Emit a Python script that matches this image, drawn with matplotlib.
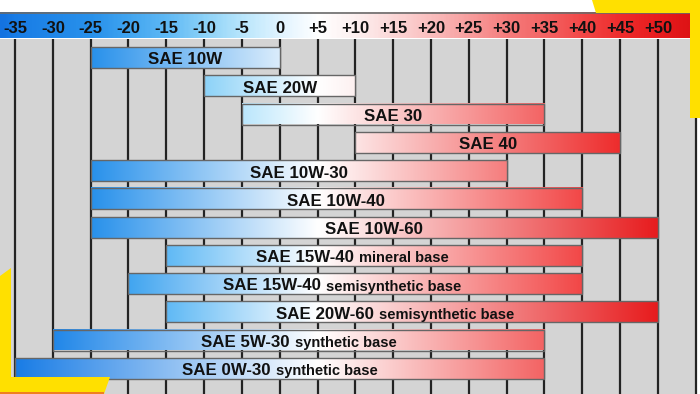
import matplotlib
matplotlib.use('Agg')
import matplotlib.pyplot as plt
import numpy as np
from matplotlib.colors import LinearSegmentedColormap, Normalize
from matplotlib.patches import Rectangle, Polygon

# ---------------- data ----------------
scale_temps = [-35, -30, -25, -20, -15, -10, -5, 0, 5, 10, 15, 20, 25, 30, 35, 40, 45, 50]
scale_labels = ['-35', '-30', '-25', '-20', '-15', '-10', '-5', '0', '+5', '+10', '+15',
                '+20', '+25', '+30', '+35', '+40', '+45', '+50']
oil_names = ['SAE 10W', 'SAE 20W', 'SAE 30', 'SAE 40', 'SAE 10W-30', 'SAE 10W-40',
             'SAE 10W-60', 'SAE 15W-40', 'SAE 15W-40', 'SAE 20W-60', 'SAE 5W-30', 'SAE 0W-30']
oil_bases = ['', '', '', '', '', '', '', 'mineral base', 'semisynthetic base',
             'semisynthetic base', 'synthetic base', 'synthetic base']
temp_low = [-25, -10, -5, 10, -25, -25, -25, -15, -20, -15, -30, -35]
temp_high = [0, 10, 35, 45, 30, 40, 50, 40, 40, 50, 35, 35]

# ---------------- layout ----------------
W, H = 700, 394
px_per_deg = 37.82 / 5.0
X0 = -35 - 15 / px_per_deg
X1 = X0 + W / px_per_deg
row_px = 28.25
first_row_px = 57.5
Y0 = -first_row_px / row_px
Y1 = (H - first_row_px) / row_px


def py(p):
    return (p - first_row_px) / row_px


def pxT(p):
    return X0 + p / px_per_deg


label_offset = [0, 0, 0, 0, 0, 0, 0, -2.9, -1.7, -2.2, 0, 0]

# temperature colour ramp
T_MIN, T_MAX = -37.0, 55.0
ramp = [(-37, (20, 115, 225)), (-35, (25, 125, 230)), (-25, (40, 145, 235)),
        (-20, (65, 165, 240)), (-15, (95, 185, 245)), (-10, (140, 210, 248)),
        (-5, (185, 230, 252)), (0, (225, 244, 255)), (5, (255, 255, 255)),
        (10, (253, 240, 240)), (20, (250, 190, 190)), (30, (245, 125, 125)),
        (35, (243, 100, 100)), (40, (242, 72, 72)), (45, (238, 45, 45)),
        (50, (232, 28, 30)), (55, (220, 18, 20))]
cmap = LinearSegmentedColormap.from_list(
    'temp', [((t - T_MIN) / (T_MAX - T_MIN), tuple(c / 255 for c in rgb)) for t, rgb in ramp])
norm = Normalize(vmin=T_MIN, vmax=T_MAX)
WHITE_T = 5.0

fig = plt.figure(figsize=(W / 100, H / 100), dpi=100)
fig.patch.set_facecolor('white')
ax = fig.add_axes([0, 0, 1, 1])
ax.set_xlim(X0, X1)
ax.set_ylim(Y1, Y0)
ax.axis('off')

fam = ['Liberation Sans', 'DejaVu Sans']

# header (global temperature gradient)
hdr_top, hdr_bot = py(13), py(38.5)
hx1 = pxT(690)
g = np.linspace(X0, hx1, 400).reshape(1, -1)
ax.imshow(g, cmap=cmap, norm=norm, extent=(X0, hx1, hdr_bot, hdr_top), aspect='auto',
          interpolation='bilinear', zorder=2)
ax.plot([X0, hx1], [hdr_top, hdr_top], color='#6a6a6a', lw=1.2, zorder=3)
for t, lab in zip(scale_temps, scale_labels):
    ax.text(t, py(33), lab, ha='center', va='baseline', fontsize=12,
            fontweight='bold', family=fam, color='#111111', zorder=4)

# grey background and grid
ax.add_patch(Rectangle((X0, hdr_bot), pxT(697) - X0, Y1 - hdr_bot, facecolor='#d4d4d4',
                       edgecolor='none', zorder=1))
ax.vlines(scale_temps + [55], hdr_bot, Y1, color='#232323', lw=1.6, zorder=2)

# bars: each bar fades from the colour of its cold end to white, then to the colour of its hot end
bh = 21 / row_px
white = np.array([1.0, 1.0, 1.0])
for i, (lo, hi) in enumerate(zip(temp_low, temp_high)):
    ts = np.linspace(lo, hi, 400)
    c_lo = np.array(cmap(norm(lo))[:3])
    c_hi = np.array(cmap(norm(hi))[:3])
    img = np.zeros((1, ts.size, 3))
    for k, t in enumerate(ts):
        if t <= WHITE_T:
            f = (WHITE_T - t) / (WHITE_T - lo) if lo < WHITE_T else 0.0
            img[0, k] = white * (1 - f) + c_lo * f
        else:
            f = (t - WHITE_T) / (hi - WHITE_T) if hi > WHITE_T else 0.0
            img[0, k] = white * (1 - f) + c_hi * f
    ax.imshow(img, extent=(lo, hi, i + bh / 2, i - bh / 2), aspect='auto',
              interpolation='bilinear', zorder=3)
    ax.add_patch(Rectangle((lo, i - bh / 2), hi - lo, bh, facecolor='none',
                           edgecolor='#666666', lw=1.0, zorder=4))

fig.canvas.draw()
renderer = fig.canvas.get_renderer()
for i, (nm, base, lo, hi) in enumerate(zip(oil_names, oil_bases, temp_low, temp_high)):
    cx = (lo + hi) / 2 + label_offset[i]
    yb = i + 7.0 / row_px
    t1 = ax.text(cx, yb, nm, ha='left', va='baseline', fontsize=12.2, fontweight='bold',
                 family=fam, color='#111111', zorder=5)
    w1 = t1.get_window_extent(renderer).width / px_per_deg
    if base:
        t2 = ax.text(cx, yb, base, ha='left', va='baseline', fontsize=10.5, fontweight='bold',
                     family=fam, color='#111111', zorder=5)
        w2 = t2.get_window_extent(renderer).width / px_per_deg
        gap = 5 / px_per_deg
        total = w1 + gap + w2
        t1.set_x(cx - total / 2)
        t2.set_x(cx - total / 2 + w1 + gap)
    else:
        t1.set_x(cx - w1 / 2)

# decorations (pixel overlay)
ov = fig.add_axes([0, 0, 1, 1], zorder=10)
ov.set_xlim(0, W)
ov.set_ylim(H, 0)
ov.axis('off')
ov.patch.set_alpha(0)
yellow = '#ffe000'
ov.add_patch(Polygon([(592, 0), (700, 0), (700, 118), (690, 118), (690, 12.5), (596, 12.5)],
                     closed=True, facecolor=yellow, edgecolor='none'))
ov.add_patch(Polygon([(0, 276), (11, 268), (11, 377), (110, 377), (104, 394), (0, 394)],
                     closed=True, facecolor=yellow, edgecolor='none'))
ov.add_patch(Rectangle((0, 392), 104, 2, facecolor='#f08020', edgecolor='none'))

fig.savefig('out.png', dpi=100, facecolor='white')
